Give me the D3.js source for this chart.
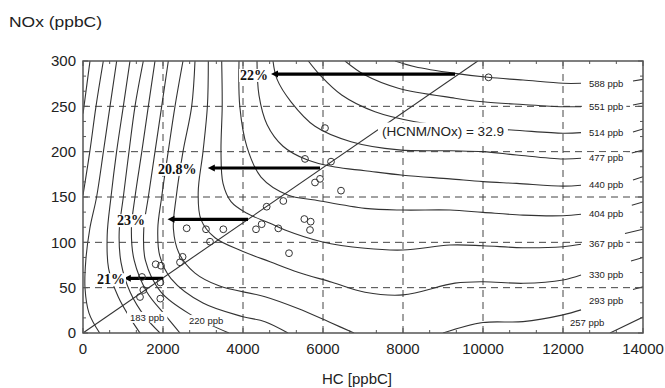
<!DOCTYPE html>
<html><head><meta charset="utf-8">
<script src="https://cdn.jsdelivr.net/npm/d3@7"></script>
<style>
body{margin:0;background:#fff}
</style></head>
<body><svg id="chart" width="665" height="388"></svg>
<script>
// ---------- data ----------
const xTicks = [0, 2000, 4000, 6000, 8000, 10000, 12000, 14000];
const yTicks = [0, 50, 100, 150, 200, 250, 300];
const xGrid = [2000, 4000, 6000, 8000, 10000, 12000];
const yGrid = [50, 100, 150, 200, 250];

// isopleths: [HC, NOx]
const c588 = [[7800,300],[8300,293.7],[9300,286.4],[10125,282],[11000,279],[12000,275.4],[12450,275.4]];
const c551 = [[6550,300],[7050,284.5],[7883,270],[9300,259],[10000,255],[11000,252],[12000,249.6],[12450,249.6]];
const c514 = [[5633,300],[5925,284.5],[6467,262.5],[7300,244],[8300,233],[9300,227.5],[10717,223.9],[12000,220.3],[12450,221]];
const c477 = [[4750,300],[4850,280],[5200,255],[5800,228],[6700,211],[7900,202],[9200,201],[10000,200],[10842,196.3],[12000,191.9],[12450,192.7]];
const c440 = [[4350,300],[4400,262],[4600,230],[5000,206],[5600,191],[6300,183],[7050,179],[8000,174],[9175,170],[10000,167],[10842,165],[12000,162],[12450,163]];
const c404 = [[3900,300],[3920,250],[4100,205],[4450,172],[5133,152],[5800,146.7],[7050,137.5],[8000,135.6],[9175,135.6],[10000,133],[11000,130],[12000,129.4],[12450,131]];
const c367 = [[3467,300],[3480,250],[3450,200],[3500,165],[3700,145],[4100,132],[4675,121],[5050,113.6],[5967,100.7],[7050,93.4],[8000,91.5],[9175,97],[10000,96.3],[11000,94],[12000,95.2],[12450,97.8]];
const c330 = [[3133,300],[3110,250],[3000,200],[2880,155],[2950,125],[3300,105],[4000,90],[4675,78.6],[5375,67],[6225,56],[7050,45],[8000,42],[9300,55],[10000,56.6],[11000,54.8],[12000,58.5],[12450,64]];
const c293a = [[2800,300],[2717,250],[2500,200],[2330,150],[2260,115],[2400,88],[2800,66],[3400,52],[4550,40],[5375,27],[6225,10.7],[6775,0]];
const c293b = [[9000,0],[10000,11.5],[11000,12.5],[12000,20],[12450,25.5]];
const c257a = [[2500,300],[2300,250],[2130,200],[1967,150],[1870,115],[1920,85],[2200,60],[3000,33],[4000,18],[4550,12.5],[5125,0]];
const c257b = [[13175,0],[14000,17.6]];
const c220 = [[2133,300],[1967,250],[1800,200],[1633,150],[1520,115],[1560,80],[1950,45],[2700,20],[3650,0]];
const c183 = [[1800,300],[1633,250],[1470,200],[1300,150],[1210,115],[1280,80],[1600,45],[2050,20],[2425,0]];
const c146 = [[1508,300],[1300,250],[1150,200],[1008,150],[905,112],[950,78],[1180,45],[1550,18],[1925,0]];
const c109 = [[1175,300],[1008,250],[840,200],[700,150],[605,108],[640,71],[880,40],[1200,15],[1425,0]];
const c72  = [[842,300],[675,250],[510,200],[340,150],[170,115],[70,80],[50,50],[150,22],[417,0]];
const c35  = [[508,300],[325,250],[170,200],[0,152]];
const c0   = [[175,300],[100,275],[25,250],[0,242]];
// short pieces right of the labels
const t588 = [[13750,278],[14000,279.7]];
const t551 = [[13750,251.5],[14000,253.7]];
const t514 = [[13750,221.7],[14000,225]];
const t477 = [[13720,198.5],[14000,201.8]];
const t440 = [[13750,168.7],[14000,172.4]];
const t404 = [[13720,141],[14000,144.5]];
const t367 = [[13550,109.7],[14000,114.4]];
const t330 = [[13700,79.4],[14000,83.3]];
const t293 = [[13750,48],[14000,51]];

const isoLines = [c588,c551,c514,c477,c440,c404,c367,c330,c293a,c293b,c257a,c257b,c220,c183,c146,c109,c72,c35,c0,
                  t588,t551,t514,t477,t440,t404,t367,t330,t293];

const levelLabels   = ["588 ppb","551 ppb","514 ppb","477 ppb","440 ppb","404 ppb","367 ppb","330 ppb","293 ppb","257 ppb","220 ppb","183 ppb"];
const levelLabelHC  = [12650,12650,12650,12650,12650,12650,12650,12650,12650,12175,2650,1175];
const levelLabelNOx = [275.5,249.5,221,193,163.5,131.5,98,64,36,11,13.5,17];

// observations
const obsHC  = [10138,6050,5550,6200,5800,5925,6450,5008,4592,5533,5692,5675,4883,5150,4325,4467,
                2592,3075,3508,3175,2490,2425,1817,1950,1475,1933,1508,1425,1933];
const obsNOx = [282,226,192,189,166,170,157,145.6,139.3,125.7,122.8,113.6,115.4,88,114.4,120,
                115.5,114.4,114.4,100.7,84,78,75.8,74.2,61.8,55.7,47.4,39.7,37.9];

// ratio line
const ratio = 32.9;
const ratioLabel = "(HCNM/NOx) = 32.9";

// reduction arrows
const arrowNOx    = [285.6, 182, 125.4, 60.3];
const arrowFrom   = [9300, 5925, 4125, 2000];
const arrowTo     = [4700, 3120, 2112, 1020];
const arrowText   = ["22%", "20.8%", "23%", "21%"];
const arrowTextHC = [3925, 1875, 850, 350];

// ---------- drawing ----------
const sans = "'Liberation Sans', Arial, sans-serif";
const serif = "'Liberation Serif', 'Times New Roman', serif";
const svg = d3.select("#chart");
const x = d3.scaleLinear().domain([0,14000]).range([83,643]);
const y = d3.scaleLinear().domain([0,300]).range([333,61]);
const line = d3.line().x(d=>x(d[0])).y(d=>y(d[1])).curve(d3.curveCatmullRom.alpha(0.5));

svg.append("clipPath").attr("id","clip").append("rect")
  .attr("x",83).attr("y",61).attr("width",560).attr("height",272);
const plot = svg.append("g");

// grid
plot.selectAll(".gx").data(xGrid).join("line")
  .attr("x1",d=>x(d)).attr("x2",d=>x(d)).attr("y1",y(0)).attr("y2",y(300))
  .attr("stroke","#444").attr("stroke-width",1).attr("stroke-dasharray","7,5");
plot.selectAll(".gy").data(yGrid).join("line")
  .attr("y1",d=>y(d)).attr("y2",d=>y(d)).attr("x1",x(0)).attr("x2",x(14000))
  .attr("stroke","#444").attr("stroke-width",1).attr("stroke-dasharray","7,5");

// isopleths
const cg = plot.append("g").attr("clip-path","url(#clip)");
cg.selectAll("path.iso").data(isoLines).join("path")
  .attr("d",line).attr("fill","none").attr("stroke","#333").attr("stroke-width",1.1);

// ratio line
cg.append("line").attr("x1",x(0)).attr("y1",y(0)).attr("x2",x(300*ratio)).attr("y2",y(300))
  .attr("stroke","#333").attr("stroke-width",1.1);

// labels with white boxes
const lg = plot.append("g");
function boxedText(g, tx, ty, str, size, family, weight, padX, padY, color){
  const t = g.append("text").attr("x",tx).attr("y",ty).attr("dy","0.35em")
    .style("font-family",family).style("font-size",size+"px").style("font-weight",weight)
    .attr("fill",color).text(str);
  const bb = t.node().getBBox();
  g.insert("rect",function(){return t.node();}).attr("x",bb.x-padX).attr("y",bb.y-padY)
    .attr("width",bb.width+2*padX).attr("height",bb.height+2*padY).attr("fill","#fff");
  return t;
}
levelLabels.forEach((t,i)=>{
  boxedText(lg, x(levelLabelHC[i]), y(levelLabelNOx[i]), t, 9.5, sans, "normal", 3, 0, "#222");
});
boxedText(lg, 382, y(222), ratioLabel, 13.5, sans, "normal", 4, 2, "#222");

// arrows
const ag = plot.append("g");
arrowNOx.forEach((n,i)=>{
  ag.append("line").attr("x1",x(arrowFrom[i])).attr("x2",x(arrowTo[i])+5)
    .attr("y1",y(n)).attr("y2",y(n)).attr("stroke","#000").attr("stroke-width",3.2);
  const ax = x(arrowTo[i]), ay = y(n);
  ag.append("path").attr("d",`M${ax},${ay}L${ax+7},${ay-3.5}L${ax+7},${ay+3.5}Z`).attr("fill","#000");
  boxedText(ag, x(arrowTextHC[i]), ay+1, arrowText[i], 14, serif, "bold", 1, -1, "#111");
});

// observations
plot.selectAll("circle.obs").data(obsHC).join("circle")
  .attr("cx",d=>x(d)).attr("cy",(d,i)=>y(obsNOx[i])).attr("r",3.4)
  .attr("fill","none").attr("stroke","#333").attr("stroke-width",1);

// frame
plot.append("rect").attr("x",83).attr("y",61).attr("width",560).attr("height",272)
  .attr("fill","none").attr("stroke","#555").attr("stroke-width",1.5);

// ticks (inward)
const xMinor = d3.range(0,14001,2000/3);
const yMinor = d3.range(0,301,50/3);
const tk = plot.append("g").attr("stroke","#555").attr("stroke-width",1);
xMinor.forEach(v=>{
  const big = Math.abs(v/2000-Math.round(v/2000))<1e-6;
  const L = big?5:3;
  tk.append("line").attr("x1",x(v)).attr("x2",x(v)).attr("y1",y(0)).attr("y2",y(0)-L);
  tk.append("line").attr("x1",x(v)).attr("x2",x(v)).attr("y1",y(300)).attr("y2",y(300)+L);
});
yMinor.forEach(v=>{
  const big = Math.abs(v/50-Math.round(v/50))<1e-6;
  const L = big?5:3;
  tk.append("line").attr("y1",y(v)).attr("y2",y(v)).attr("x1",x(0)).attr("x2",x(0)+L);
  tk.append("line").attr("y1",y(v)).attr("y2",y(v)).attr("x1",x(14000)).attr("x2",x(14000)-L);
});

// tick labels
svg.append("g").selectAll("text").data(xTicks).join("text")
  .attr("x",d=>x(d)).attr("y",354).attr("text-anchor","middle")
  .style("font-family",sans).style("font-size","15px").attr("fill","#222").text(d=>d);
svg.append("g").selectAll("text").data(yTicks).join("text")
  .attr("x",76).attr("y",d=>y(d)).attr("dy","0.35em").attr("text-anchor","end")
  .style("font-family",sans).style("font-size","15px").attr("fill","#222").text(d=>d);

// titles
svg.append("text").attr("x",9).attr("y",27).style("font-family",sans).style("font-size","15.5px")
  .attr("textLength",93).attr("lengthAdjust","spacingAndGlyphs").attr("fill","#222").text("NOx (ppbC)");
svg.append("text").attr("x",322).attr("y",384).style("font-family",sans).style("font-size","15.5px")
  .attr("textLength",70).attr("lengthAdjust","spacingAndGlyphs").attr("fill","#222").text("HC [ppbC]");
</script></body></html>
